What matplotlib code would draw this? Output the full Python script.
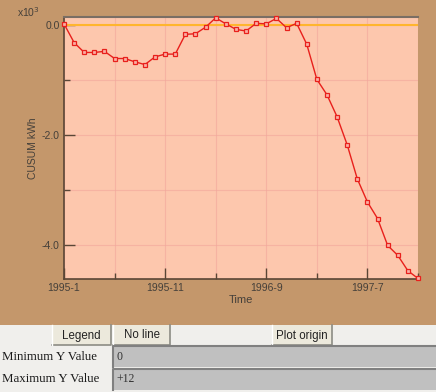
import matplotlib
matplotlib.use("Agg")
import matplotlib.pyplot as plt
from matplotlib.patches import Rectangle
from matplotlib.ticker import FixedLocator

# ---- data (CUSUM, x10^3 kWh), monthly from 1995-1 to 1997-12 ----
months = list(range(36))
cusum = [0.02, -0.32, -0.50, -0.50, -0.48, -0.61, -0.61, -0.67, -0.72, -0.58,
         -0.53, -0.53, -0.17, -0.16, -0.04, 0.13, 0.02, -0.08, -0.11, 0.03,
         0.02, 0.12, -0.05, 0.03, -0.35, -0.99, -1.27, -1.67, -2.18, -2.80,
         -3.22, -3.52, -4.01, -4.19, -4.47, -4.61]
x_tick_pos = [0, 10, 20, 30]
x_tick_labels = ["1995-1", "1995-11", "1996-9", "1997-7"]
y_tick_pos = [0.0, -2.0, -4.0]
y_tick_labels = ["0.0", "-2.0", "-4.0"]
field_labels = ["Minimum Y Value", "Maximum Y Value"]
field_values = ["0", "+12"]
buttons = ["Legend", "No line", "Plot origin"]

W, H = 436, 392
BROWN = "#C4976B"
PLOTBG = "#FDC7AD"
AXC = "#5A4636"
TXT = "#45403A"

fig = plt.figure(figsize=(W / 100, H / 100), dpi=100)
fig.patch.set_facecolor(BROWN)

def fx(px):
    return px / W

def fy(py):
    return 1 - py / H

def frect(x0, y0, x1, y1, **kw):
    fig.patches.append(Rectangle((fx(x0), fy(y1)), fx(x1) - fx(x0), fy(y0) - fy(y1),
                                 transform=fig.transFigure, figure=fig, **kw))

# ---- plot axes ----
L, T, R, B = 64, 17, 418, 279
ax = fig.add_axes([fx(L), fy(B), fx(R) - fx(L), fy(T) - fy(B)])
ax.set_facecolor(PLOTBG)
ax.set_xlim(0, 35)
ax.set_ylim(-4.62, 0.145)

ax.xaxis.set_major_locator(FixedLocator(x_tick_pos))
ax.xaxis.set_minor_locator(FixedLocator([5, 15, 25, 35]))
ax.set_xticklabels(x_tick_labels)
ax.yaxis.set_major_locator(FixedLocator(y_tick_pos))
ax.yaxis.set_minor_locator(FixedLocator([-1.0, -3.0]))
ax.set_yticklabels(y_tick_labels)

ax.grid(True, which="both", color="#F2A69C", linewidth=0.8, alpha=0.6)
ax.set_axisbelow(True)

ax.tick_params(axis="both", which="major", direction="in", length=8, width=1,
               color=AXC, labelsize=7.5, labelcolor=TXT, pad=3)
ax.tick_params(axis="both", which="minor", direction="in", length=4, width=1,
               color=AXC)
for lab in ax.get_xticklabels() + ax.get_yticklabels():
    lab.set_family("Liberation Sans")

for s in ["left", "bottom"]:
    ax.spines[s].set_color(AXC)
    ax.spines[s].set_linewidth(1.2)
ax.spines["top"].set_color("#7A6E64")
ax.spines["top"].set_linewidth(1.5)
ax.spines["right"].set_visible(False)

ax.axhline(0, color="#FFB52E", linewidth=1.5, zorder=2)
ax.plot(months, cusum, color="#E8201C", linewidth=1.0, marker="s", markersize=3.4,
        markerfacecolor="#FBB0A4", markeredgecolor="#E8201C", markeredgewidth=0.9,
        zorder=3, clip_on=False)

ax.set_xlabel("Time", fontsize=8, color=TXT, family="Liberation Sans", labelpad=1)
fig.text(fx(33), fy(148), "CUSUM kWh", rotation=90, ha="center", va="center",
         fontsize=7.5, color=TXT, family="Liberation Sans")
fig.text(fx(17), fy(17), "x10$^3$", ha="left", va="baseline", fontsize=7.5,
         color=TXT, family="Liberation Sans")

# ---- control panel ----
frect(0, 325, W, H, facecolor="#F0EFEC", edgecolor="none")

def button(x0, x1, label):
    frect(x0, 325, x1, 345, facecolor="#ECE9DC", edgecolor="none")
    fig.lines.append(plt.Line2D([fx(x0), fx(x1), fx(x1)], [fy(345), fy(345), fy(325)],
                                transform=fig.transFigure, color="#8C8C84", linewidth=1.2))
    fig.lines.append(plt.Line2D([fx(x0), fx(x0)], [fy(345), fy(325)],
                                transform=fig.transFigure, color="#FFFFFF", linewidth=1))
    fig.text(fx((x0 + x1) / 2), fy(335.5), label, ha="center", va="center",
             fontsize=8.3, color="#222222", family="Liberation Sans")

button(52, 111, buttons[0])
button(113, 170, buttons[1])
button(272, 332, buttons[2])

for i, (lab, val) in enumerate(zip(field_labels, field_values)):
    y0 = 346 + i * 23
    y1 = y0 + 21
    frect(113, y0, W, y1, facecolor="#C0C0C0", edgecolor="none")
    fig.lines.append(plt.Line2D([fx(113), fx(113), fx(W)], [fy(y1), fy(y0), fy(y0)],
                                transform=fig.transFigure, color="#808080", linewidth=1.5))
    fig.text(fx(2), fy((y0 + y1) / 2), lab, ha="left", va="center", fontsize=9.3,
             color="#1A1A1A", family="Liberation Serif")
    fig.text(fx(116), fy((y0 + y1) / 2), val, ha="left", va="center", fontsize=8.5,
             color="#333333", family="Liberation Serif")

fig.savefig("out.png", dpi=100, facecolor=fig.get_facecolor())
